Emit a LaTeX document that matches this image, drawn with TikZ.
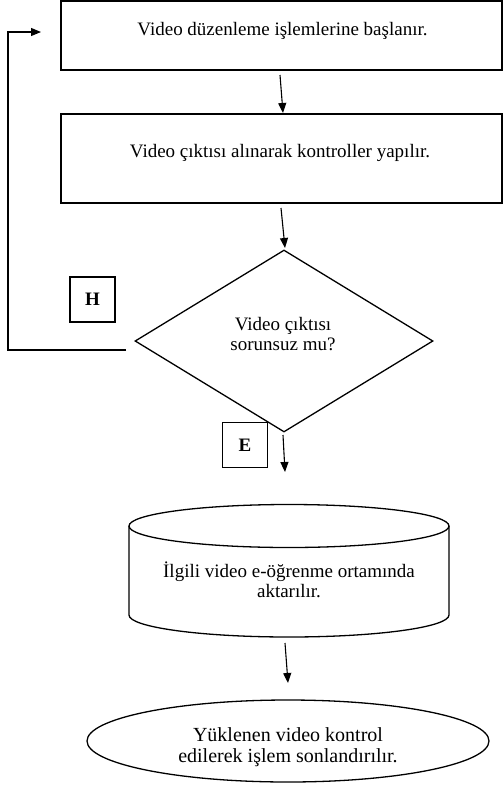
\documentclass[tikz,border=0pt]{standalone}
\usepackage{fontspec}
\setmainfont{Liberation Serif}
\usetikzlibrary{arrows.meta,shapes.geometric}
\begin{document}
\begin{tikzpicture}[x=1pt,y=-1pt,
  every node/.style={font=\fontsize{19}{20.5}\selectfont},
  frame/.style={draw, line width=1.3pt, rectangle, inner sep=0pt},
  lbl/.style={align=center, inner sep=0pt},
  tag/.style={draw, line width=1.3pt, rectangle, minimum width=45pt, minimum height=45pt, inner sep=0pt, font=\fontsize{19}{20}\selectfont\bfseries},
  arr/.style={line width=1.1pt, -{Triangle[length=10pt,width=8pt]}},
  ln/.style={line width=1.1pt}]
\useasboundingbox (0,0) rectangle (503,793);
% boxes
\node[frame, minimum width=441pt, minimum height=69pt] (box1) at (281.5,35.5) {};
\node[lbl, anchor=base] (t1) at (282.5,35) {Video düzenleme işlemlerine başlanır.};
\node[frame, minimum width=441pt, minimum height=89pt] (box2) at (281.5,158.5) {};
\node[lbl, anchor=base] (t2) at (280,157) {Video çıktısı alınarak kontroller yapılır.};
% diamond
\node[draw, line width=1.3pt, diamond, minimum width=298pt, minimum height=182pt, inner sep=0pt] (dia) at (284,341) {};
\node[lbl] (t3) at (283,334) {Video çıktısı\\sorunsuz mu?};
% tags
\node[tag] (H) at (92.5,299.5) {H};
\node[tag] (E) at (245,445) {E};
% cylinder
\draw[line width=1.3pt] (289,526) ellipse [x radius=160pt, y radius=21.5pt];
\draw[line width=1.3pt] (129,526) -- (129,615) arc[start angle=180, end angle=360, x radius=160pt, y radius=22pt] -- (449,526);
\node[lbl] (cyl) at (289,580) {İlgili video e-öğrenme ortamında\\aktarılır.};
% end ellipse
\node[draw, line width=1.3pt, ellipse, minimum width=402pt, minimum height=82pt, inner sep=0pt] (ell) at (288,741) {};
\node[lbl, font=\fontsize{20}{21}\selectfont] (t5) at (288,747) {Yüklenen video kontrol\\edilerek işlem sonlandırılır.};
% connectors
\coordinate (a1s) at (280,75);
\coordinate (a1e) at (283,113);
\draw[arr] (a1s) -- (a1e);
\coordinate (a2s) at (281,208);
\coordinate (a2e) at (285,248);
\draw[arr] (a2s) -- (a2e);
\coordinate (a3s) at (283,435);
\coordinate (a3e) at (285,472);
\draw[arr] (a3s) -- (a3e);
\coordinate (a4s) at (285,643);
\coordinate (a4e) at (288,683);
\draw[arr] (a4s) -- (a4e);
% loop back
\coordinate (l0) at (126,350);
\coordinate (l1) at (8,350);
\coordinate (l2) at (8,32);
\coordinate (l3) at (41,32);
\draw[arr] (l0) -- (l1) -- (l2) -- (l3);
\end{tikzpicture}
\end{document}
